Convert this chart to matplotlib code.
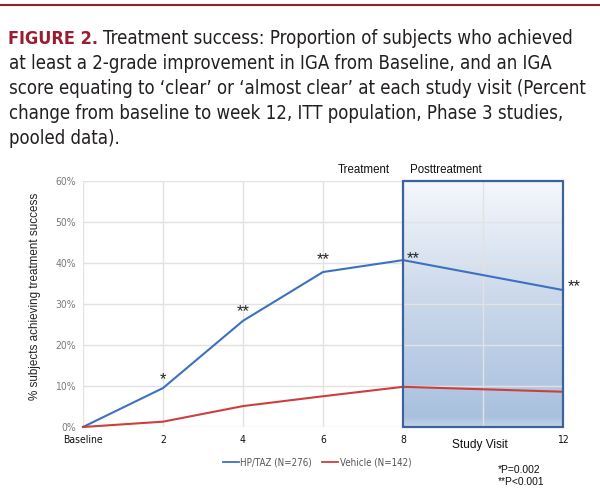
import matplotlib
matplotlib.use("Agg")
import matplotlib.pyplot as plt
import numpy as np
from matplotlib.colors import LinearSegmentedColormap
from matplotlib.lines import Line2D

weeks = [0, 2, 4, 6, 8, 12]
hp_taz = [0.0, 9.5, 25.9, 37.8, 40.7, 33.4]
vehicle = [0.0, 1.3, 5.1, 7.5, 9.8, 8.6]
xtick_pos = [0, 2, 4, 6, 8, 10, 12]
xtick_labels = ["Baseline", "2", "4", "6", "8", "", "12"]
yticks = [0, 10, 20, 30, 40, 50, 60]
star_marks = ["", "*", "**", "**", "**", "**"]

ARIAL = ["Liberation Sans", "DejaVu Sans"]
COND = dict(family=["DejaVu Sans"], fontstretch="condensed")
W, H = 600, 494
fig = plt.figure(figsize=(6, 4.94), dpi=100)

def px(x, y):
    return x / W, 1 - y / H

# top rule
fig.add_artist(Line2D([0, 1], [1 - 5 / H] * 2, color="#9b1b30", lw=1.5))

# title
title_lines = [
    "Treatment success: Proportion of subjects who achieved",
    "at least a 2-grade improvement in IGA from Baseline, and an IGA",
    "score equating to \u2018clear\u2019 or \u2018almost clear\u2019 at each study visit (Percent",
    "change from baseline to week 12, ITT population, Phase 3 studies,",
    "pooled data).",
]
base_y = [44, 69, 94, 119, 144]
tfs = 15.0
others = []
for ln, yb in zip(title_lines[1:], base_y[1:]):
    others.append(fig.text(*px(9, yb), ln, color="#231f20", fontsize=tfs, va="baseline", **COND))
fig.canvas.draw()
r = fig.canvas.get_renderer()
tfs2 = tfs * 580.0 / others[1].get_window_extent(r).width
for t in others:
    t.set_fontsize(tfs2)
t0 = fig.text(*px(8, base_y[0]), "FIGURE 2.", color="#9b1b30", fontsize=tfs2 * 0.97,
              fontweight="bold", va="baseline", **COND)
fig.canvas.draw()
x_start = t0.get_window_extent(r).x1 + 5
first = fig.text(x_start / W, 1 - base_y[0] / H, title_lines[0], color="#231f20",
                 fontsize=tfs2, va="baseline", **COND)
fig.canvas.draw()
first.set_fontsize(tfs2 * (572.0 - x_start) / first.get_window_extent(r).width)

# axes
ax = fig.add_axes([83 / W, 1 - 427 / H, 480 / W, 246 / H])
ax.set_xlim(0, 12)
ax.set_ylim(0, 60)

# shaded posttreatment box
cmap = LinearSegmentedColormap.from_list(
    "g", [(0, "#c3d4ea"), (0.04, "#a9c1df"), (0.5, "#c9d7ea"), (1.0, "#f5f8fc")])
grad = np.linspace(0, 1, 256).reshape(-1, 1)
ax.imshow(grad, extent=[8, 12, 0, 60], origin="lower", aspect="auto", cmap=cmap,
          zorder=0.3)
ax.add_patch(plt.Rectangle((8, 0), 4, 60, fill=False, edgecolor="#3d629c", lw=1.6,
                           zorder=4, clip_on=False))

ax.set_xticks(xtick_pos)
ax.set_xticklabels(xtick_labels, fontsize=7.5, color="#111111", **COND)
ax.set_yticks(yticks)
ax.set_yticklabels([f"{v}%" for v in yticks], fontsize=7.5, color="#7a7a7a", **COND)
ax.tick_params(length=0, pad=5)
ax.tick_params(axis="x", pad=6)
ax.set_axisbelow(True)
ax.grid(True, color="#e2e2e2", lw=1.0)
for s in ax.spines.values():
    s.set_visible(False)

ax.plot(weeks, hp_taz, color="#3e70c0", lw=1.5, zorder=3, clip_on=False)
ax.plot(weeks, vehicle, color="#cc3f3f", lw=1.5, zorder=3, clip_on=False)

star_dy = [0, 1.0, 1.2, 1.9, -0.7, -0.3]
for x, y, s, dy in zip(weeks, hp_taz, star_marks, star_dy):
    if not s:
        continue
    if x < 8:
        ax.text(x, y + dy, s, ha="center", va="baseline", fontsize=12, color="#222222",
                family=ARIAL)
    else:
        ax.text(x + 0.1 if x == 8 else x + 0.12, y + dy, s, ha="left", va="baseline",
                fontsize=12, color="#222222", family=ARIAL, clip_on=False)

fig.text(*px(35, 296), "% subjects achieving treatment success", rotation=90,
         ha="center", va="center", fontsize=8.4, color="#222222", family=ARIAL)

fig.text(*px(364, 170), "Treatment", ha="center", va="center", fontsize=8.3,
         color="#111111", family=ARIAL)
fig.text(*px(446, 170), "Posttreatment", ha="center", va="center", fontsize=8.3,
         color="#111111", family=ARIAL)
fig.text(*px(480, 445), "Study Visit", ha="center", va="center", fontsize=8.6,
         color="#111111", family=ARIAL)

# legend
fig.add_artist(Line2D([223 / W, 239 / W], [1 - 462 / H] * 2, color="#3e70c0", lw=1.3))
fig.text(*px(240, 462), "HP/TAZ (N=276)", ha="left", va="center", fontsize=7,
         color="#555555", **COND)
fig.add_artist(Line2D([322 / W, 338 / W], [1 - 462 / H] * 2, color="#cc3f3f", lw=1.3))
fig.text(*px(340, 462), "Vehicle (N=142)", ha="left", va="center", fontsize=7,
         color="#555555", **COND)

fig.text(*px(498, 470), "*P=0.002", ha="left", va="center", fontsize=7.4, color="#111111",
         family=ARIAL)
fig.text(*px(498, 482), "**P<0.001", ha="left", va="center", fontsize=7.4, color="#111111",
         family=ARIAL)

fig.savefig("out.png", dpi=100)
